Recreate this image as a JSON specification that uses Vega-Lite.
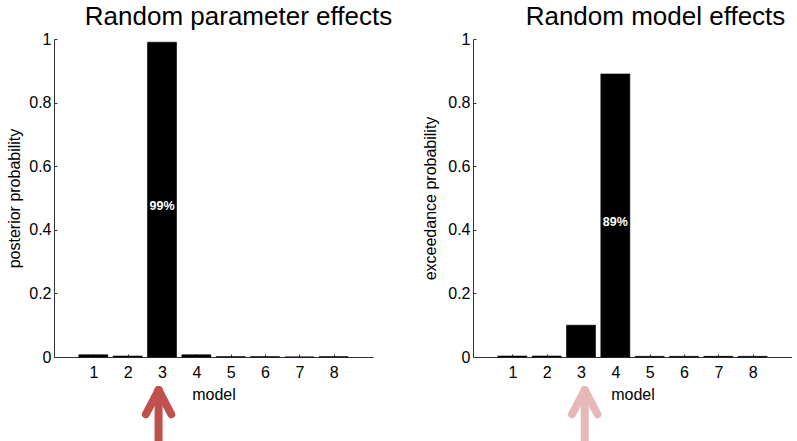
{
  "$schema": "https://vega.github.io/schema/vega-lite/v6.json",
  "autosize": {"type": "pad"},
  "padding": {"left": 6, "top": 4, "right": 0, "bottom": 0},
  "background": "white",
  "config": {
    "font": "Liberation Sans",
    "view": {"stroke": null},
    "axis": {
      "domainColor": "#333333",
      "tickColor": "#333333",
      "labelColor": "#000000",
      "titleColor": "#000000",
      "labelFont": "Liberation Sans",
      "titleFont": "Liberation Sans",
      "labelFontSize": 16,
      "titleFontSize": 16,
      "titleFontWeight": "normal",
      "grid": false
    },
    "title": {"font": "Liberation Sans", "fontSize": 26, "fontWeight": "normal", "color": "#000000"}
  },
  "datasets": {
    "rfx_param": [
      {"model": 1, "prob": 0.007, "label": ""},
      {"model": 2, "prob": 0.003, "label": ""},
      {"model": 3, "prob": 0.99, "label": "99%"},
      {"model": 4, "prob": 0.007, "label": ""},
      {"model": 5, "prob": 0.001, "label": ""},
      {"model": 6, "prob": 0.001, "label": ""},
      {"model": 7, "prob": 0.0, "label": ""},
      {"model": 8, "prob": 0.001, "label": ""}
    ],
    "rfx_model": [
      {"model": 1, "prob": 0.003, "label": ""},
      {"model": 2, "prob": 0.003, "label": ""},
      {"model": 3, "prob": 0.10, "label": ""},
      {"model": 4, "prob": 0.89, "label": "89%"},
      {"model": 5, "prob": 0.002, "label": ""},
      {"model": 6, "prob": 0.002, "label": ""},
      {"model": 7, "prob": 0.002, "label": ""},
      {"model": 8, "prob": 0.002, "label": ""}
    ],
    "arrow_left": [
      {"x": 2.9, "y": -0.104, "x2": 2.9, "y2": -0.32},
      {"x": 2.9, "y": -0.104, "x2": 2.53, "y2": -0.18},
      {"x": 2.9, "y": -0.104, "x2": 3.27, "y2": -0.18}
    ],
    "arrow_right": [
      {"x": 3.11, "y": -0.104, "x2": 3.11, "y2": -0.32},
      {"x": 3.11, "y": -0.104, "x2": 2.74, "y2": -0.18},
      {"x": 3.11, "y": -0.104, "x2": 3.48, "y2": -0.18}
    ]
  },
  "bounds": "flush",
  "spacing": 100,
  "hconcat": [
    {
      "width": 319,
      "height": 318,
      "title": {"text": "Random parameter effects", "dx": 25, "offset": 1},
      "layer": [
        {
          "data": {"name": "rfx_param"},
          "mark": {"type": "bar", "width": 29, "color": "black", "stroke": "black", "strokeWidth": 0.6},
          "encoding": {
            "x": {"field": "model", "type": "quantitative", "scale": {"domain": [0, 9], "nice": false, "zero": false},
                  "axis": {"values": [1,2,3,4,5,6,7,8], "title": "model", "titlePadding": 6, "tickSize": -3, "labelPadding": 10, "format": "d"}},
            "y": {"field": "prob", "type": "quantitative", "scale": {"domain": [0, 1], "nice": false},
                  "axis": {"values": [0, 0.2, 0.4, 0.6, 0.8, 1], "format": "~g", "title": "posterior probability", "tickSize": -3, "labelPadding": 6, "titlePadding": 6}}
          }
        },
        {
          "data": {"name": "rfx_param"},
          "transform": [{"filter": "datum.label != ''"}],
          "mark": {"type": "text", "color": "white", "fontWeight": "bold", "fontSize": 12.5, "baseline": "middle"},
          "encoding": {
            "x": {"field": "model", "type": "quantitative"},
            "y": {"datum": 0.476, "type": "quantitative"},
            "text": {"field": "label"}
          }
        },
        {
          "data": {"name": "arrow_left"},
          "mark": {"type": "rule", "color": "#c0504d", "strokeWidth": 8, "strokeCap": "round"},
          "encoding": {
            "x": {"field": "x", "type": "quantitative"},
            "y": {"field": "y", "type": "quantitative"},
            "x2": {"field": "x2"},
            "y2": {"field": "y2"}
          }
        }
      ]
    },
    {
      "width": 319,
      "height": 318,
      "title": {"text": "Random model effects", "dx": 23, "offset": 1},
      "layer": [
        {
          "data": {"name": "rfx_model"},
          "mark": {"type": "bar", "width": 29, "color": "black", "stroke": "black", "strokeWidth": 0.6},
          "encoding": {
            "x": {"field": "model", "type": "quantitative", "scale": {"domain": [0, 9], "nice": false, "zero": false},
                  "axis": {"values": [1,2,3,4,5,6,7,8], "title": "model", "titlePadding": 6, "tickSize": -3, "labelPadding": 10, "format": "d"}},
            "y": {"field": "prob", "type": "quantitative", "scale": {"domain": [0, 1], "nice": false},
                  "axis": {"values": [0, 0.2, 0.4, 0.6, 0.8, 1], "format": "~g", "title": "exceedance probability", "tickSize": -3, "labelPadding": 6, "titlePadding": 9}}
          }
        },
        {
          "data": {"name": "rfx_model"},
          "transform": [{"filter": "datum.label != ''"}],
          "mark": {"type": "text", "color": "white", "fontWeight": "bold", "fontSize": 12.5, "baseline": "middle"},
          "encoding": {
            "x": {"field": "model", "type": "quantitative"},
            "y": {"datum": 0.425, "type": "quantitative"},
            "text": {"field": "label"}
          }
        },
        {
          "data": {"name": "arrow_right"},
          "mark": {"type": "rule", "color": "#e6b9b8", "strokeWidth": 8, "strokeCap": "round"},
          "encoding": {
            "x": {"field": "x", "type": "quantitative"},
            "y": {"field": "y", "type": "quantitative"},
            "x2": {"field": "x2"},
            "y2": {"field": "y2"}
          }
        }
      ]
    }
  ]
}
